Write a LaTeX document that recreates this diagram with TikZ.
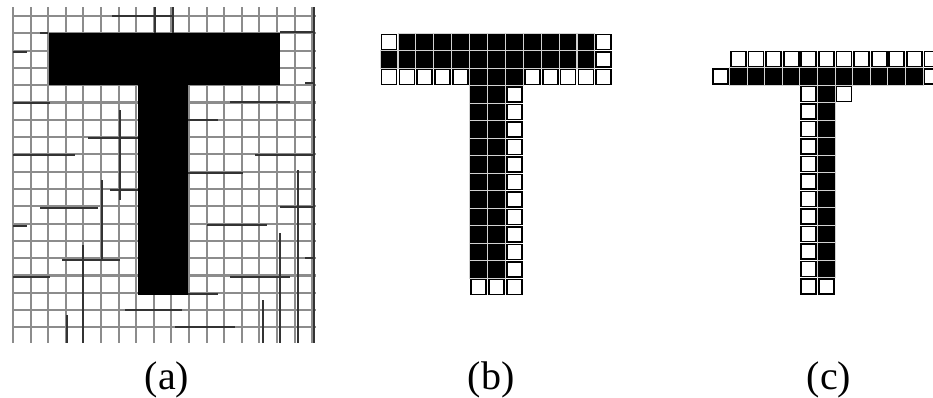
\documentclass[tikz,border=0pt]{standalone}
\usepackage{fontspec}
\setmainfont{Liberation Serif}
\begin{document}
\begin{tikzpicture}[x=1pt,y=-1pt]
    % Define style for cell
    \tikzstyle{wcell} = [draw, rectangle, line width=1.8pt, minimum size=15pt, inner sep=0pt, fill=white]
    \tikzstyle{bcell} = [draw=gray!35, rectangle, line width=0.9pt, minimum width=17.8pt, minimum height=17.5pt, inner sep=0pt, fill=black]
    \tikzstyle{gridline} = [black!45, line width=2.1pt]
    \tikzstyle{darkline} = [black!80, line width=1.4pt]
    \tikzstyle{caption} = [font=\fontsize{40}{40}\selectfont, anchor=base, inner sep=0pt]

    \useasboundingbox[fill=white] (0,0) rectangle (933,397);

    % Draw the grid of (a)
    \foreach \i in {0,...,17}
        \draw[gridline] ({13+17.6*\i},7) -- ({13+17.6*\i},343);
    \foreach \j in {0,...,18}
        \draw[gridline] (12,{16+17.3*\j}) -- (316,{16+17.3*\j});
    % darker strokes of the scan
    \foreach \y/\xa/\xb in {16/112/172,33/40/48,52/13/27,103/13/50,155/13/75,138/88/138,190/110/138,
        208/40/98,226/13/27,260/62/120,277/13/50,310/125/182,327/175/235,32/280/314,83/305/314,
        102/230/290,120/188/218,155/255/314,173/188/243,207/280/314,225/207/267,258/305/314,
        277/230/290,294/188/218}
        \draw[darkline] (\xa,\y) -- (\xb,\y);
    \foreach \x/\ya/\yb in {155/7/33,173/7/33,120/110/200,102/180/260,83/245/343,67/315/343,
        298/170/343,314/7/343,280/233/343,263/300/343}
        \draw[darkline] (\x,\ya) -- (\x,\yb);
    \fill (49,33) rectangle (280,85);
    \fill (138,85) rectangle (188,295);

    % Cells of (b)
    \foreach \row/\col in {1/1,1/13,2/13,3/1,3/2,3/3,3/4,3/5,3/9,3/10,3/11,3/12,3/13,15/6,15/7,15/8}
        \node(b\row-\col)[wcell] at ({389+17.9*(\col-1)},{42+17.5*(\row-1)}) {};
    \foreach \col in {2,...,12}
        \node(b1-\col)[bcell] at ({389+17.9*(\col-1)},42) {};
    \foreach \col in {1,...,12}
        \node(b2-\col)[bcell] at ({389+17.9*(\col-1)},59.5) {};
    \foreach \col in {6,7,8}
        \node(b3-\col)[bcell] at ({389+17.9*(\col-1)},77) {};
    \foreach \row in {4,...,14} {
        \node(b\row-6)[bcell] at ({389+17.9*5},{42+17.5*(\row-1)}) {};
        \node(b\row-7)[bcell] at ({389+17.9*6},{42+17.5*(\row-1)}) {};
        \node(b\row-8)[wcell] at ({389+17.9*7},{42+17.5*(\row-1)}) {};
      }

    % Cells of (c)
    \foreach \col in {1,...,12}
        \node(c1-\col)[wcell] at ({720.8+17.6*\col},59) {};
    \node(c2-0)[wcell] at (720.8,76.5) {};
    \node(c2-12)[wcell] at ({720.8+17.6*12},76.5) {};
    \foreach \col in {1,...,11}
        \node(c2-\col)[bcell] at ({720.8+17.6*\col},76.5) {};
    \node(c3-7)[wcell] at ({720.8+17.6*7},94) {};
    \foreach \row in {3,...,13} {
        \node(c\row-5)[wcell] at ({720.8+17.6*5},{59+17.5*(\row-1)}) {};
        \node(c\row-6)[bcell] at ({720.8+17.6*6},{59+17.5*(\row-1)}) {};
      }
    \node(c14-5)[wcell] at ({720.8+17.6*5},{59+17.5*13}) {};
    \node(c14-6)[wcell] at ({720.8+17.6*6},{59+17.5*13}) {};

    % Captions
    \node(capa)[caption] at (167,389) {(a)};
    \node(capb)[caption] at (491,389) {(b)};
    \node(capc)[caption] at (829,389) {(c)};
  \end{tikzpicture}
\end{document}
